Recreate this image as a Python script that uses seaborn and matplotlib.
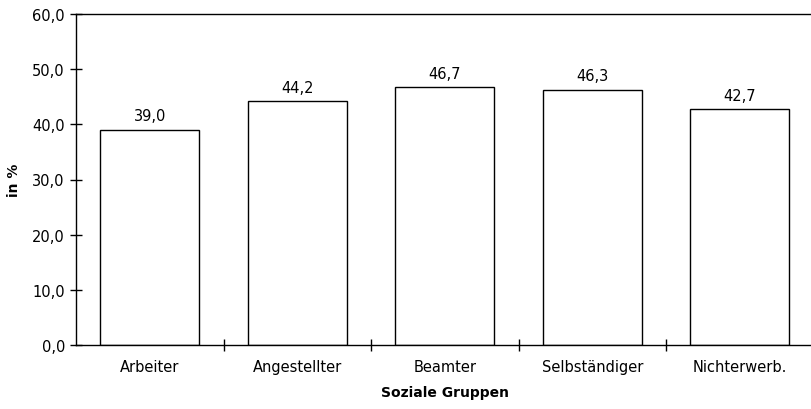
import pandas as pd
import seaborn as sns
import matplotlib.pyplot as plt
from matplotlib.ticker import FuncFormatter, FixedLocator

sns.set_style('white')
plt.rcParams['font.family'] = ['DejaVu Sans']
plt.rcParams['text.color'] = 'black'
plt.rcParams['xtick.color'] = 'black'
plt.rcParams['ytick.color'] = 'black'
plt.rcParams['axes.labelcolor'] = 'black'

groups = ['Arbeiter', 'Angestellter', 'Beamter', 'Selbständiger', 'Nichterwerb.']
values = [39.0, 44.2, 46.7, 46.3, 42.7]
yticks = [0, 10, 20, 30, 40, 50, 60]

df = pd.DataFrame({'Gruppe': groups, 'Wert': values})

fig = plt.figure(figsize=(8.11, 4.10), dpi=100)
ax = fig.add_axes([76 / 811, 64 / 410, 737.5 / 811, 331 / 410])

sns.barplot(data=df, x='Gruppe', y='Wert', color='white', edgecolor='black',
            linewidth=1.0, width=0.67, saturation=1, ax=ax)

for i, v in enumerate(values):
    ax.text(i, v + 1.2, f'{v:.1f}'.replace('.', ','), ha='center', va='bottom', fontsize=10.5)

ax.set_xlim(-0.5, len(groups) - 0.5)
ax.set_ylim(0, 60)
ax.set_yticks(yticks)
ax.yaxis.set_major_formatter(FuncFormatter(lambda v, p: f'{v:.1f}'.replace('.', ',')))

# separators between categories as crossing ticks
ax.xaxis.set_minor_locator(FixedLocator([0.5, 1.5, 2.5, 3.5]))
ax.tick_params(axis='x', which='major', length=0, pad=10, labelsize=10.5)
ax.tick_params(axis='x', which='minor', direction='inout', length=9, width=1, bottom=True)
ax.tick_params(axis='y', which='major', direction='inout', length=9, width=1, left=True, labelsize=10.5)

for s in ['left', 'bottom', 'top']:
    ax.spines[s].set_visible(True)
    ax.spines[s].set_color('black')
    ax.spines[s].set_linewidth(1.0)
ax.spines['right'].set_visible(False)

ax.set_xlabel('Soziale Gruppen', fontsize=10, fontweight='bold', labelpad=8)
ax.set_ylabel('in %', fontsize=10, fontweight='bold', labelpad=8)

plt.savefig('out.png', dpi=100)
plt.close()
